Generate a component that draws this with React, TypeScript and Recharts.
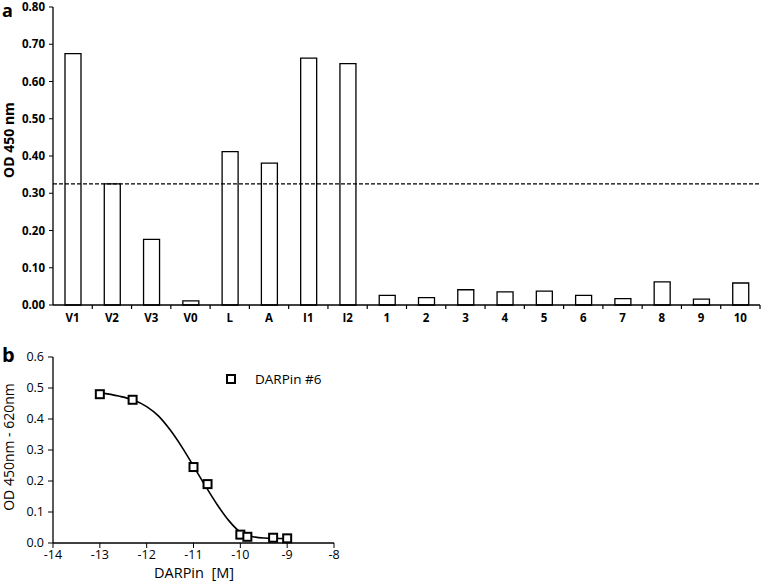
import React from "react";
import {
  BarChart, Bar, XAxis, YAxis, ReferenceLine, ComposedChart, Line, Scatter, Legend,
} from "recharts";

// panel a: ELISA screen
const categories = ["V1", "V2", "V3", "V0", "L", "A", "I1", "I2", "1", "2", "3", "4", "5", "6", "7", "8", "9", "10"];
const odValues = [0.675, 0.325, 0.176, 0.011, 0.412, 0.381, 0.663, 0.648, 0.026, 0.02, 0.041, 0.035, 0.037, 0.026, 0.017, 0.062, 0.016, 0.059];
const cutoff = 0.325;
const barTicks = [0, 0.1, 0.2, 0.3, 0.4, 0.5, 0.6, 0.7, 0.8];

// panel b: titration of DARPin #6
const logConc = [-13, -12.3, -11, -10.7, -10, -9.85, -9.3, -9];
const odDiff = [0.48, 0.462, 0.245, 0.19, 0.027, 0.02, 0.017, 0.015];
const fitX = [-13, -12.6, -12.3, -12, -11.75, -11.5, -11.25, -11, -10.75, -10.5, -10.25, -10, -9.75, -9.5, -9];
const fitY = [0.485, 0.474, 0.462, 0.44, 0.41, 0.365, 0.31, 0.248, 0.185, 0.125, 0.073, 0.035, 0.021, 0.016, 0.014];
const xTicksB = [-14, -13, -12, -11, -10, -9, -8];
const yTicksB = [0, 0.1, 0.2, 0.3, 0.4, 0.5, 0.6];

const barData = categories.map((name, i) => ({ name, od: odValues[i] }));
const pointData = logConc.map((x, i) => ({ x, y: odDiff[i] }));
const curveData = fitX.map((x, i) => ({ x, y: fitY[i] }));

const FONT = "'Open Sans', 'Liberation Sans', sans-serif";
const A_W = 761;
const A_LEFT = 53;
const A_RIGHT = 1;
const BAND = (A_W - A_LEFT - A_RIGHT) / categories.length;

const BarTick = ({ x, y, payload }: any) => {
  const axisY = y - 9;
  return (
    <g>
      <line x1={x + BAND / 2} x2={x + BAND / 2} y1={axisY} y2={axisY + 4} stroke="#000" strokeWidth={1.2} />
      <text x={x} y={y} dy="0.71em" textAnchor="middle" fontFamily={FONT} fontWeight={700} fontSize={11.5} fill="#000">
        {payload.value}
      </text>
    </g>
  );
};

const Square = ({ cx, cy }: any) => (
  <rect x={cx - 4} y={cy - 4} width={8} height={8} fill="#fff" stroke="#000" strokeWidth={2} />
);

export default function App() {
  return (
    <div style={{ position: "absolute", left: 0, top: 0, width: 761, height: 588, background: "#fff" }}>
      <div style={{ position: "absolute", left: 0, top: 0 }}>
        <BarChart width={A_W} height={330} data={barData} margin={{ top: 7, right: A_RIGHT, bottom: 0, left: 0 }}>
          <XAxis dataKey="name" height={25} interval={0} tickSize={4} tickMargin={5} tickLine={false}
            axisLine={{ stroke: "#000", strokeWidth: 1.3 }} tick={<BarTick />} />
          <YAxis width={A_LEFT} domain={[0, 0.8]} ticks={barTicks} tickFormatter={(v) => v.toFixed(2)}
            tickSize={4} tickMargin={4} axisLine={{ stroke: "#000", strokeWidth: 1.3 }} tickLine={{ stroke: "#000" }}
            tick={{ fontFamily: FONT, fontWeight: 700, fontSize: 11.5, fill: "#000" }}
            label={{
              content: () => (
                <g fontFamily={FONT} fill="#000">
                  <text x={2} y={17} fontSize={18} fontWeight={700}>a</text>
                  <text x={14} y={140} transform="rotate(-90 14 140)" textAnchor="middle" fontSize={14} fontWeight={700}>
                    OD 450 nm
                  </text>
                </g>
              ),
            }} />
          <ReferenceLine y={cutoff} stroke="#000" strokeWidth={1.3} strokeDasharray="4 2" />
          <Bar dataKey="od" fill="#fff" stroke="#000" strokeWidth={1.3} barSize={16} isAnimationActive={false} />
        </BarChart>
      </div>
      <div style={{ position: "absolute", left: 0, top: 330 }}>
        <ComposedChart width={360} height={258} margin={{ top: 27, right: 26, bottom: 0, left: 0 }}>
          <XAxis type="number" dataKey="x" domain={[-14, -8]} ticks={xTicksB} height={45} tickSize={5} tickMargin={2}
            axisLine={{ stroke: "#000", strokeWidth: 1.3 }} tickLine={{ stroke: "#000" }}
            tick={{ fontFamily: FONT, fontSize: 12.5, fill: "#000" }}
            label={{
              content: () => (
                <text x={194} y={248} textAnchor="middle" fontFamily={FONT} fontSize={14.5} fill="#000">
                  {"DARPin\u00a0\u00a0[M]"}
                </text>
              ),
            }} />
          <YAxis type="number" width={53} domain={[0, 0.6]} ticks={yTicksB} tickFormatter={(v) => v.toFixed(1)}
            tickSize={5} tickMargin={4} axisLine={{ stroke: "#000", strokeWidth: 1.3 }} tickLine={{ stroke: "#000" }}
            tick={{ fontFamily: FONT, fontSize: 12.5, fill: "#000" }}
            label={{
              content: () => (
                <g fontFamily={FONT} fill="#000">
                  <text x={2} y={32} fontSize={20} fontWeight={700}>b</text>
                  <text x={14} y={117} transform="rotate(-90 14 117)" textAnchor="middle" fontSize={14}>
                    OD 450nm - 620nm
                  </text>
                </g>
              ),
            }} />
          <Legend layout="vertical" align="center" verticalAlign="middle"
            wrapperStyle={{ position: "absolute", left: 226, top: 40, width: "auto" }}
            content={() => (
              <div style={{ display: "flex", alignItems: "center", fontFamily: FONT, fontSize: 13.5, color: "#000" }}>
                <span style={{ display: "inline-block", width: 6, height: 6, border: "2px solid #000", marginRight: 19 }} />
                DARPin #6
              </div>
            )} />
          <Line data={curveData} dataKey="y" type="monotone" dot={false} stroke="#000" strokeWidth={1.6}
            legendType="none" isAnimationActive={false} />
          <Scatter data={pointData} dataKey="y" name="DARPin #6" shape={<Square />} isAnimationActive={false} />
        </ComposedChart>
      </div>
    </div>
  );
}
